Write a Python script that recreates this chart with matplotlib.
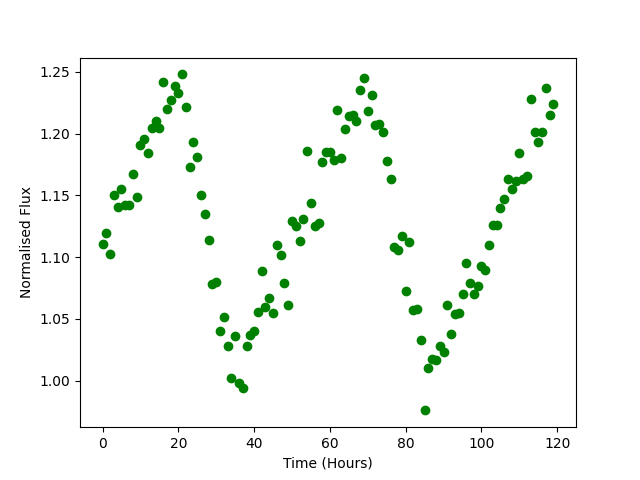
import numpy as np
import matplotlib
matplotlib.use('Agg')
import matplotlib.pyplot as plt

# hourly samples, values
hours = list(range(120))
flux = [
    1.111, 1.120, 1.103, 1.150, 1.141, 1.155, 1.142, 1.142, 1.167, 1.149,
    1.191, 1.196, 1.184, 1.205, 1.210, 1.205, 1.242, 1.220, 1.227, 1.239,
    1.233, 1.248, 1.222, 1.173, 1.193, 1.181, 1.150, 1.135, 1.114, 1.078,
    1.080, 1.040, 1.052, 1.028, 1.002, 1.036, 0.998, 0.994, 1.028, 1.037,
    1.040, 1.056, 1.089, 1.060, 1.067, 1.055, 1.110, 1.102, 1.079, 1.061,
    1.129, 1.125, 1.113, 1.131, 1.186, 1.144, 1.125, 1.128, 1.177, 1.185,
    1.185, 1.179, 1.219, 1.180, 1.204, 1.214, 1.215, 1.210, 1.235, 1.245,
    1.218, 1.231, 1.207, 1.208, 1.201, 1.178, 1.163, 1.108, 1.106, 1.117,
    1.073, 1.112, 1.057, 1.058, 1.033, 0.976, 1.010, 1.018, 1.017, 1.028,
    1.023, 1.061, 1.038, 1.054, 1.055, 1.070, 1.095, 1.079, 1.070, 1.077,
    1.093, 1.090, 1.110, 1.126, 1.126, 1.140, 1.147, 1.163, 1.155, 1.162,
    1.184, 1.163, 1.166, 1.228, 1.201, 1.193, 1.201, 1.237, 1.215, 1.224,
]

plt.figure(figsize=(6.4, 4.8), dpi=100)
plt.plot(hours, flux, 'go')
plt.xlabel('Time (Hours)')
plt.ylabel('Normalised Flux')
plt.savefig('out.png')
